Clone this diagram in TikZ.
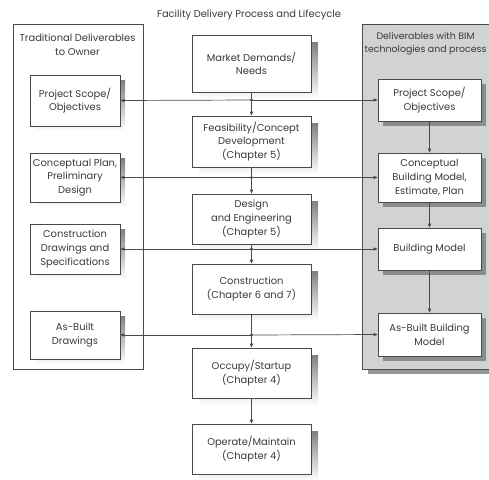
\documentclass[tikz,border=0pt]{standalone}
\usepackage{fontspec}
\setmainfont{Poppins}
\usetikzlibrary{arrows.meta}
\definecolor{txt}{HTML}{3A3A3A}
\definecolor{edge}{HTML}{4A4A4A}
\definecolor{shade}{HTML}{C8C8C8}
\definecolor{panel}{HTML}{D2D2D2}
\tikzset{
  x=1pt,y=-1pt,
  every node/.style={text=txt,font=\fontsize{9.9}{13.6}\selectfont,align=center,inner sep=1pt},
  cbox/.style={draw=edge,line width=0.8pt,fill=white,minimum width=119pt,minimum height=50pt},
  lbox/.style={draw=edge,line width=0.8pt,fill=white,minimum width=90pt,minimum height=50pt},
  rbox/.style={draw=edge,line width=0.8pt,fill=white,minimum width=103pt,minimum height=43pt},
  conn/.style={draw=edge,line width=0.7pt,-{Triangle[length=4pt,width=3.2pt]}},
  jdot/.style={circle,fill=edge,inner sep=0pt,minimum size=3.2pt},
}
\begin{document}
\begin{tikzpicture}
\useasboundingbox (0,0) rectangle (489,479);
\clip (0,0) rectangle (489,479);
\fill[white] (0,0) rectangle (489,479);
% panels
\draw[edge,line width=0.8pt] (13,24) rectangle (143,369);
\fill[shade!75!black] (368,30) rectangle (500,374);
\draw[edge,line width=0.8pt,fill=panel] (362,24) rectangle (500,369);
\node (title) at (249,15) {Facility Delivery Process and Lifecycle};
\node (ltitle) at (77.5,45) {Traditional Deliverables\\to Owner};
\node[anchor=north west,font=\fontsize{9.4}{13.6}\selectfont,inner sep=0pt] (rtitle) at (364.5,32) {Deliverables with BIM\\technologies and process};
% shadows
\foreach \y/\h in {63.5/57,141.5/51,219/50,289/50,373/50,449/50}
  \fill[shade] (251.5-59.5+7,\y-\h/2+7) rectangle (251.5+59.5+7,\y+\h/2+7);
\foreach \y/\h in {100.5/51,177.5/49,249/50,335/48}
  \fill[shade] (75-45+5,\y-\h/2+5) rectangle (75+45+5,\y+\h/2+5);
\foreach \y/\h in {100/42,177.5/49,249/42,334.5/43}
  \fill[shade!70!black] (429.5-51.5+5,\y-\h/2+5) rectangle (429.5+51.5+5,\y+\h/2+5);
% center boxes
\node[cbox,minimum height=57pt] (mkt) at (251.5,63.5) {Market Demands/\\Needs};
\node[cbox,minimum height=51pt] (feas) at (251.5,141.5) {Feasibility/Concept\\Development\\(Chapter 5)};
\node[cbox] (des) at (251.5,219) {Design\\and Engineering\\(Chapter 5)};
\node[cbox] (con) at (251.5,289) {Construction\\(Chapter 6 and 7)};
\node[cbox] (occ) at (251.5,373) {Occupy/Startup\\(Chapter 4)};
\node[cbox] (op) at (251.5,449) {Operate/Maintain\\(Chapter 4)};
% left boxes
\node[lbox,minimum height=51pt] (lps) at (75,100.5) {Project Scope/\\Objectives};
\node[lbox,minimum height=49pt] (lcp) at (75,177.5) {Conceptual Plan,\\Preliminary\\Design};
\node[lbox] (lcd) at (75,249) {Construction\\Drawings and\\Specifications};
\node[lbox,minimum height=48pt] (lab) at (75,335) {As-Built\\Drawings};
% right boxes
\node[rbox,minimum height=42pt] (rps) at (429.5,100) {Project Scope/\\Objectives};
\node[rbox,minimum height=49pt] (rcb) at (429.5,177.5) {Conceptual\\Building Model,\\Estimate, Plan};
\node[rbox,minimum height=42pt] (rbm) at (429.5,249) {Building Model};
\node[rbox] (rab) at (429.5,334.5) {As-Built Building\\Model};
% junctions
\node[jdot] (j1) at (251.5,100) {};
\node[jdot] (j2) at (251.5,177.5) {};
\node[jdot] (j3) at (251.5,249) {};
\node[jdot] (j4) at (251.5,335) {};
% center flow
\draw[conn] (mkt.south) -- (feas.north);
\draw[conn] (feas.south) -- (des.north);
\draw[conn] (des.south) -- (con.north);
\draw[conn] (con.south) -- (occ.north);
\draw[conn] (occ.south) -- (op.north);
% horizontal
\draw[conn] (j1.center) -- (lps.east);
\draw[conn] (j1.center) -- (rps.west);
\draw[conn] (j2.center) -- (lcp.east);
\draw[conn] (j2.center) -- (rcb.west);
\draw[conn] (j3.center) -- (lcd.east);
\draw[conn] (j3.center) -- (rbm.west);
\draw[conn] (j4.center) -- (lab.east);
\draw[conn] (j4.center) -- (rab.west);
% right flow
\draw[conn] (rps.south) -- (rcb.north);
\draw[conn] (rcb.south) -- (rbm.north);
\draw[conn] (rbm.south) -- (rab.north);
\end{tikzpicture}
\end{document}
